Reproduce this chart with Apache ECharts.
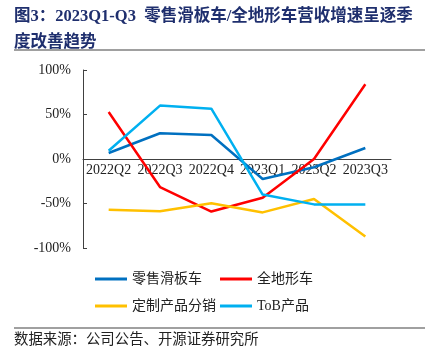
<!DOCTYPE html>
<html><head><meta charset="utf-8">
<script src="https://cdn.jsdelivr.net/npm/echarts@6/dist/echarts.min.js"></script>
<style>html,body{margin:0;padding:0;background:#fff}#c{width:432px;height:360px}</style>
</head><body><div id="c"></div>
<script>
const categories = ['2022Q2','2022Q3','2022Q4','2023Q1','2023Q2','2023Q3'];
const retailScooter = [0.067, 0.289, 0.27, -0.225, -0.093, 0.124];
const atv = [0.528, -0.315, -0.59, -0.435, 0.0, 0.84];
const customDistribution = [-0.57, -0.588, -0.498, -0.60, -0.45, -0.87];
const toB = [0.093, 0.60, 0.565, -0.40, -0.51, -0.51];
const yTicks = [-1, -0.5, 0, 0.5, 1];
const seriesNames = ['零售滑板车','全地形车','定制产品分销','ToB产品'];
const colors = ['#0070C0','#FF0000','#FFC000','#00B0F0'];

const serif = 'Liberation Serif, "Times New Roman", "Noto Sans CJK SC", serif';
const cjk = '"Liberation Serif", "Noto Sans CJK SC", sans-serif';
const chart = echarts.init(document.getElementById('c'));
const dataArr = [retailScooter, atv, customDistribution, toB];
chart.setOption({
  animation: false,
  backgroundColor: '#fff',
  graphic: [
    {type:'text', left:14, top:4, style:{text:'图3：2023Q1-Q3  零售滑板车/全地形车营收增速呈逐季\n度改善趋势', fill:'#1F2F6E', font:'bold 16.5px ' + cjk, lineHeight:26}},
    {type:'line', shape:{x1:14,y1:50,x2:425,y2:50}, style:{stroke:'#808080', lineWidth:1.5}},
    {type:'line', shape:{x1:14,y1:328,x2:425,y2:328}, style:{stroke:'#808080', lineWidth:1.5}},
    {type:'text', left:14, top:333, style:{text:'数据来源：公司公告、开源证券研究所', fill:'#222', font:'14.4px ' + cjk}}
  ],
  grid: {left:83, right:41, top:70, bottom:112, containLabel:false},
  legend: [
    {left:90, top:267, orient:'vertical', itemWidth:32, itemHeight:3, itemGap:13, icon:'rect',
     data:[seriesNames[0], seriesNames[2]], textStyle:{fontSize:14, fontFamily:cjk, color:'#222'}},
    {left:215, top:267, orient:'vertical', itemWidth:32, itemHeight:3, itemGap:13, icon:'rect',
     data:[seriesNames[1], seriesNames[3]], textStyle:{fontSize:14, fontFamily:cjk, color:'#222'}}
  ],
  xAxis: {
    type:'category', data:categories, boundaryGap:true,
    offset:-89,
    axisLine:{onZero:false, lineStyle:{color:'#404040', width:1}},
    axisTick:{inside:true, length:5, lineStyle:{color:'#404040'}},
    axisLabel:{color:'#222', fontSize:14, fontFamily:serif, margin:4, interval:0, hideOverlap:false}
  },
  yAxis: {
    type:'value', min:yTicks[0], max:yTicks[yTicks.length-1], interval:0.5,
    axisLine:{show:true, lineStyle:{color:'#404040', width:1}},
    axisTick:{show:true, inside:true, length:4, lineStyle:{color:'#404040'}},
    splitLine:{show:false},
    axisLabel:{color:'#222', fontSize:14, fontFamily:serif, margin:12,
      formatter: v => Math.round(v*100) + '%'}
  },
  series: dataArr.map((d,i) => ({
    name: seriesNames[i], type:'line', data:d, symbol:'none',
    lineStyle:{color:colors[i], width:2.5}, itemStyle:{color:colors[i]}
  }))
});
</script></body></html>
